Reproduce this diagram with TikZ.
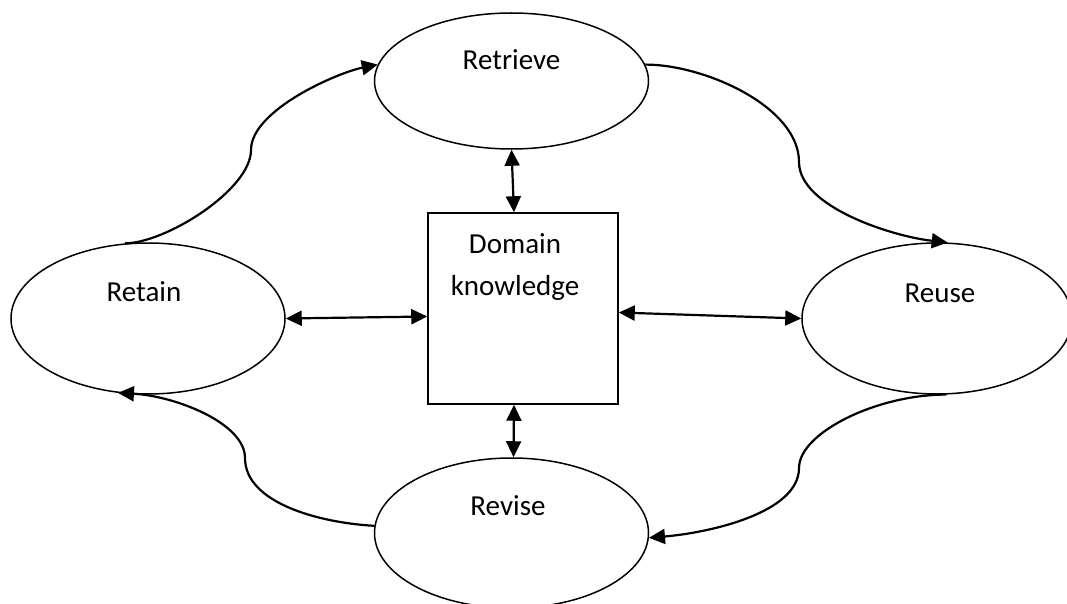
\documentclass[tikz,border=0pt]{standalone}
\usepackage{fontspec}
\setmainfont{Carlito}
\usetikzlibrary{arrows.meta,shapes.geometric}

\tikzset{
  phase/.style={draw, ellipse, line width=1.5pt, inner sep=0pt, minimum width=274pt},
  kbox/.style={draw, rectangle, line width=1.5pt, minimum width=190pt, minimum height=191pt, inner sep=0pt},
  lbl/.style={font=\fontsize{29}{42}\selectfont, inner sep=0pt, align=center},
  flow/.style={line width=2.2pt, -{Triangle[length=16pt, width=15pt]}},
  link/.style={line width=2.2pt, {Triangle[length=16pt, width=15pt]}-{Triangle[length=16pt, width=15pt]}}
}

\begin{document}
\begin{tikzpicture}[x=1pt, y=-1pt]
  \useasboundingbox (0,0) rectangle (1067,604);
  \fill[white] (0,0) rectangle (1067,604);
  \clip (0,0) rectangle (1067,604);

  % the four phases of the cycle
  \node[phase, minimum height=136pt] (retrieve) at (511.5,81) {};
  \node[phase, minimum height=151pt] (retain)   at (148,318.5) {};
  \node[phase, minimum height=151pt, minimum width=270pt] (reuse) at (937,318.5) {};
  \node[phase, minimum height=150pt] (revise)   at (511.5,533) {};

  % central knowledge store
  \node[kbox] (box) at (523,308.5) {};

  % captions
  \node[lbl] (retrieveText) at ([yshift=21pt]retrieve.center) {Retrieve};
  \node[lbl] (retainText)   at ([xshift=-4pt,yshift=26.5pt]retain.center) {Retain};
  \node[lbl] (reuseText)    at ([xshift=3pt,yshift=25.5pt]reuse.center) {Reuse};
  \node[lbl] (reviseText)   at ([xshift=-3.5pt,yshift=27pt]revise.center) {Revise};
  \node[lbl] (boxText)      at (515,267) {Domain\\knowledge};

  % turning points of the S-shaped flows
  \coordinate (m1) at (251,150);
  \coordinate (m2) at (799,162);
  \coordinate (m3) at (799,468);
  \coordinate (m4) at (245,458);

  % cycle: retain -> retrieve -> reuse -> revise -> retain
  \draw[flow] (retain.107) .. controls +(40,0) and +(0,40) .. (m1)
                           .. controls +(0,-40) and +(-40,8) .. (retrieve.173);
  \draw[flow] (retrieve.7) .. controls +(60,0) and +(0,-55) .. (m2)
                           .. controls +(0,45) and +(-55,-6) .. (reuse.82);
  \draw[flow] (reuse.-83)  .. controls +(-70,0) and +(0,-35) .. (m3)
                           .. controls +(0,45) and +(60,-5) .. (revise.-2);
  \draw[flow] (revise.177) .. controls +(-55,-3) and +(0,45) .. (m4)
                           .. controls +(0,-35) and +(57,3) .. (retain.248);

  % exchanges with the knowledge store
  \draw[link] (retrieve.south) -- ([xshift=-9pt]box.north);
  \draw[link] ([xshift=-9pt]box.south) -- ([xshift=2pt]revise.north);
  \draw[link] (retain.east) -- ([yshift=-8pt]box.west);
  \draw[link] ([yshift=-4pt]box.east) -- (reuse.west);
\end{tikzpicture}
\end{document}
